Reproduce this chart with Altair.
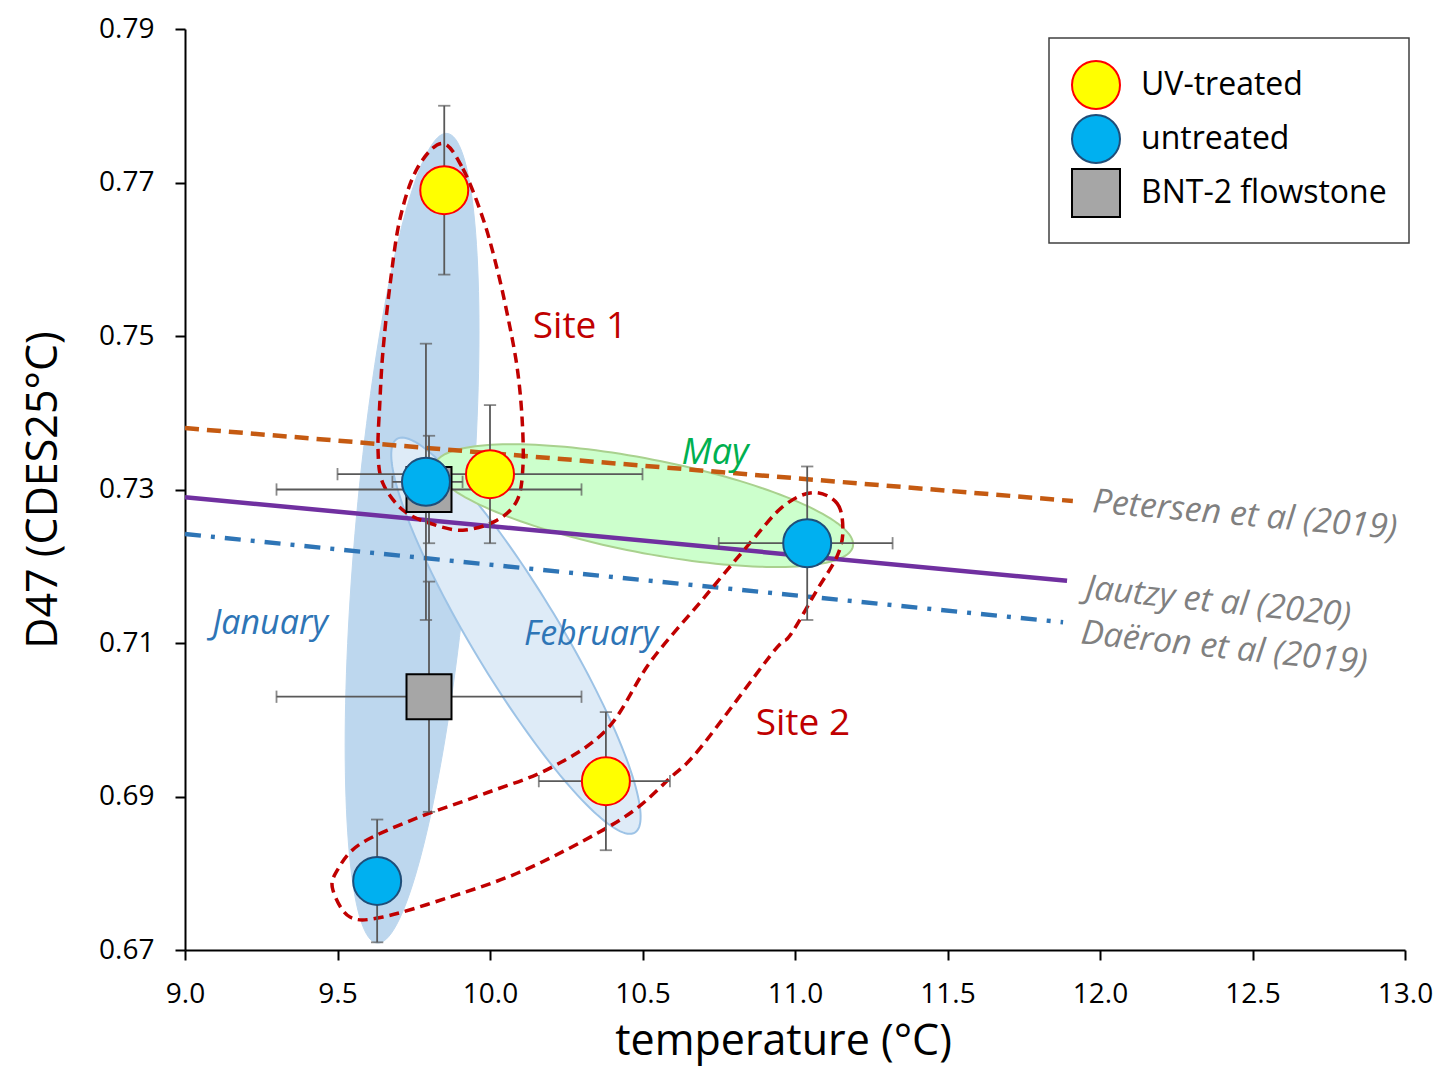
import altair as alt
import numpy as np
import pandas as pd

# ---------------- data ----------------
TYPES = ["BNT-2 flowstone", "BNT-2 flowstone", "untreated", "untreated", "untreated",
         "UV-treated", "UV-treated", "UV-treated"]
TEMP = [9.80, 9.80, 9.79, 9.63, 11.04, 9.85, 10.00, 10.38]
D47 = [0.730, 0.703, 0.731, 0.679, 0.723, 0.769, 0.732, 0.692]
TEMP_LO = [9.30, 9.30, 9.68, None, 10.75, None, 9.50, 10.16]
TEMP_HI = [10.30, 10.30, 9.91, None, 11.32, None, 10.50, 10.59]
D47_LO = [0.723, 0.688, 0.713, 0.671, 0.713, 0.758, 0.723, 0.683]
D47_HI = [0.737, 0.718, 0.749, 0.687, 0.733, 0.780, 0.741, 0.701]

LEGEND_ORDER = ["UV-treated", "untreated", "BNT-2 flowstone"]

# calibration lines (start / end)
CAL_NAMES = ["Petersen et al (2019)", "Jautzy et al (2020)", "Daëron et al (2019)"]
CAL_X0 = [9.0, 9.0, 9.0]
CAL_Y0 = [0.7380, 0.7290, 0.7242]
CAL_X1 = [11.911, 11.892, 11.879]
CAL_Y1 = [0.7285, 0.7181, 0.7127]

# month ellipses: major-axis end points and minor/major ratio
ELL_NAMES = ["January", "February", "May"]
ELL_P1 = [(9.859, 0.7764), (9.695, 0.7366), (9.820, 0.7332)]
ELL_P2 = [(9.630, 0.6709), (10.475, 0.6853), (11.190, 0.7226)]
ELL_RATIO = [0.141, 0.19, 0.22]

# site outlines
SITE1_X = [9.843, 9.911, 9.977, 10.023, 10.059, 10.089, 10.105, 10.108, 10.089, 10.023,
           9.911, 9.803, 9.715, 9.649, 9.633, 9.639, 9.649, 9.672, 9.705, 9.761]
SITE1_Y = [0.7751, 0.7718, 0.7653, 0.7588, 0.7524, 0.7459, 0.7394, 0.7330, 0.7286, 0.7260,
           0.7247, 0.7256, 0.7273, 0.7308, 0.7350, 0.7415, 0.7480, 0.7566, 0.7653, 0.7718]
SITE2_X = [11.059, 11.138, 11.157, 11.138, 11.072, 10.984, 10.928, 10.689, 10.590, 10.469,
           10.305, 10.089, 9.869, 9.649, 9.541, 9.485, 9.498, 9.574, 9.761, 9.977,
           10.197, 10.384, 10.525, 10.689, 10.852, 10.961]
SITE2_Y = [0.7296, 0.7282, 0.7247, 0.7213, 0.7169, 0.7110, 0.7088, 0.6963, 0.6924, 0.6881,
           0.6842, 0.6800, 0.6769, 0.6743, 0.6743, 0.6778, 0.6803, 0.6838, 0.6872, 0.6903,
           0.6937, 0.6988, 0.7075, 0.7153, 0.7230, 0.7278]

# text annotations
ANN_TEXT = ["Site 1", "Site 2", "May", "January", "February",
            "Petersen et al (2019)", "Jautzy et al (2020)", "Daëron et al (2019)"]
ANN_X = [10.295, 11.026, 10.738, 9.279, 10.331, 12.475, 12.387, 12.407]
ANN_Y = [0.7512, 0.6994, 0.7347, 0.7125, 0.7110, 0.7266, 0.7153, 0.7093]

X_TICKS = [9.0, 9.5, 10.0, 10.5, 11.0, 11.5, 12.0, 12.5, 13.0]
Y_TICKS = [0.67, 0.69, 0.71, 0.73, 0.75, 0.77, 0.79]

# ---------------- layout ----------------
W, H = 1220, 921
X_MIN, X_MAX = 9.0, 13.0
Y_MIN, Y_MAX = 0.67, 0.79
KX = W / (X_MAX - X_MIN)
KY = H / (Y_MAX - Y_MIN)
FONT = "Open Sans"

xs = alt.Scale(domain=[X_MIN, X_MAX], nice=False, zero=False)
ys = alt.Scale(domain=[Y_MIN, Y_MAX], nice=False, zero=False)
AX_X = alt.Axis(values=X_TICKS, format=".1f", title="temperature (°C)", titleX=598)
AX_Y = alt.Axis(values=Y_TICKS, format=".2f", title="D47 (CDES25°C)")


def X(field):
    return alt.X(field, scale=xs, axis=AX_X)


def Y(field):
    return alt.Y(field, scale=ys, axis=AX_Y)


def ellipse(p1, p2, ratio, n=160):
    X1, Y1, X2, Y2 = p1[0] * KX, p1[1] * KY, p2[0] * KX, p2[1] * KY
    cx, cy = (X1 + X2) / 2, (Y1 + Y2) / 2
    a = np.hypot(X2 - X1, Y2 - Y1) / 2
    b = a * ratio
    ang = np.arctan2(Y2 - Y1, X2 - X1)
    t = np.linspace(0, 2 * np.pi, n, endpoint=False)
    ex, ey = a * np.cos(t), b * np.sin(t)
    PX = cx + ex * np.cos(ang) - ey * np.sin(ang)
    PY = cy + ex * np.sin(ang) + ey * np.cos(ang)
    return PX / KX, PY / KY


def shape_df(x, y):
    return pd.DataFrame({"x": list(x), "y": list(y), "i": range(len(x))})


def enc_xy(df_mark):
    return df_mark.encode(x=X("x:Q"), y=Y("y:Q"), order=alt.Order("i:Q"))


ELL_STYLE = {
    "January": dict(fill="#BDD7EE", stroke="#BDD7EE", strokeWidth=1),
    "February": dict(fill="#DEEBF7", stroke="#9DC3E6", strokeWidth=2),
    "May": dict(fill="#CCFFCC", stroke="#A9D18E", strokeWidth=2),
}

layers = []
for name, p1, p2, r in zip(ELL_NAMES, ELL_P1, ELL_P2, ELL_RATIO):
    ex, ey = ellipse(p1, p2, r)
    layers.append(enc_xy(alt.Chart(shape_df(ex, ey)).mark_line(
        interpolate="linear-closed", **ELL_STYLE[name])))

# calibration lines
CAL_STYLE = [
    dict(color="#C55A11", strokeWidth=4.5, strokeDash=[14, 8]),
    dict(color="#7030A0", strokeWidth=4.5),
    dict(color="#2E75B6", strokeWidth=4.5, strokeDash=[16, 10, 4, 10]),
]
for k in range(3):
    df = pd.DataFrame({"x": [CAL_X0[k], CAL_X1[k]], "y": [CAL_Y0[k], CAL_Y1[k]], "i": [0, 1]})
    layers.append(enc_xy(alt.Chart(df).mark_line(**CAL_STYLE[k])))

# site outlines
for sx, sy in [(SITE1_X, SITE1_Y), (SITE2_X, SITE2_Y)]:
    layers.append(enc_xy(alt.Chart(shape_df(sx, sy)).mark_line(
        interpolate="cardinal-closed", color="#C00000", strokeWidth=3.5,
        strokeDash=[10, 6])))

# error bars
pts = pd.DataFrame({"type": TYPES, "t": TEMP, "d": D47, "tlo": TEMP_LO, "thi": TEMP_HI,
                    "dlo": D47_LO, "dhi": D47_HI})
pts["sz"] = [2025 if t == "BNT-2 flowstone" else 2304 for t in TYPES]
ERR = "#595959"
xe = pts.dropna(subset=["tlo"])

layers.append(alt.Chart(pts).mark_rule(color=ERR, strokeWidth=1.8).encode(
    x=X("t:Q"), y=Y("dlo:Q"), y2="dhi:Q"))
layers.append(alt.Chart(xe).mark_rule(color=ERR, strokeWidth=1.8).encode(
    x=X("tlo:Q"), x2="thi:Q", y=Y("d:Q")))
for col in ["dlo", "dhi"]:
    layers.append(alt.Chart(pts).mark_point(shape="stroke", size=150, color=ERR,
                                            strokeWidth=1.8).encode(
        x=X("t:Q"), y=Y(f"{col}:Q")))
for col in ["tlo", "thi"]:
    layers.append(alt.Chart(xe).mark_point(shape="stroke", size=150, color=ERR,
                                           strokeWidth=1.8, angle=90).encode(
        x=X(f"{col}:Q"), y=Y("d:Q")))

# points (with legend)
leg = alt.Legend(title=None)
points = alt.Chart(pts).mark_point(filled=True, opacity=1, strokeWidth=2).encode(
    x=X("t:Q"),
    y=Y("d:Q"),
    fill=alt.Fill("type:N", scale=alt.Scale(domain=LEGEND_ORDER,
                                            range=["#FFFF00", "#00B0F0", "#A6A6A6"]),
                  legend=leg),
    stroke=alt.Stroke("type:N", scale=alt.Scale(domain=LEGEND_ORDER,
                                                range=["#FF0000", "#1F4E79", "#000000"]),
                      legend=leg),
    shape=alt.Shape("type:N", scale=alt.Scale(domain=LEGEND_ORDER,
                                              range=["circle", "circle", "square"]),
                    legend=leg),
    size=alt.Size("sz:Q", scale=None, legend=None),
    order=alt.Order("sz:Q"),
)
layers.append(points)

# annotations
ann = pd.DataFrame({"text": ANN_TEXT, "x": ANN_X, "y": ANN_Y})
ANN_STYLE = [
    dict(color="#C00000", fontSize=37, fontStyle="normal", angle=0),
    dict(color="#C00000", fontSize=37, fontStyle="normal", angle=0),
    dict(color="#00B050", fontSize=36, fontStyle="italic", angle=0),
    dict(color="#2E75B6", fontSize=34, fontStyle="italic", angle=0),
    dict(color="#2E75B6", fontSize=34, fontStyle="italic", angle=0),
    dict(color="#808080", fontSize=34, fontStyle="italic", angle=5),
    dict(color="#808080", fontSize=34, fontStyle="italic", angle=6),
    dict(color="#808080", fontSize=34, fontStyle="italic", angle=6),
]
for k in range(len(ANN_TEXT)):
    layers.append(alt.Chart(ann.iloc[[k]]).mark_text(
        font=FONT, align="center", baseline="middle", **ANN_STYLE[k]).encode(
        x=X("x:Q"), y=Y("y:Q"), text="text:N"))

chart = alt.layer(*layers).properties(
    width=W, height=H,
    padding={"left": 177, "top": 21, "right": 37, "bottom": 120},
    autosize=alt.AutoSizeParams(type="none"),
).configure_view(stroke=None).configure_axis(
    grid=False, domainColor="#000000", domainWidth=2, tickColor="#000000", tickWidth=2,
    tickSize=10, labelFont=FONT, labelFontSize=28, labelColor="#000000",
    titleFont=FONT, titleFontSize=43, titleFontWeight="normal", titleColor="#000000",
).configure_axisX(labelPadding=20, titlePadding=12, labelFlush=False
).configure_axisY(labelPadding=21, titlePadding=33
).configure_legend(
    orient="none", legendX=864, legendY=9, padding=22, strokeColor="#404040",
    fillColor="#FFFFFF", strokeWidth=1.5, symbolSize=2304, symbolStrokeWidth=2,
    labelFont=FONT, labelFontSize=32, labelColor="#000000", labelOffset=20,
    rowPadding=-2, symbolOpacity=1, labelLimit=400,
)

chart.save("out.html", embed_options={"renderer": "svg", "actions": False})
